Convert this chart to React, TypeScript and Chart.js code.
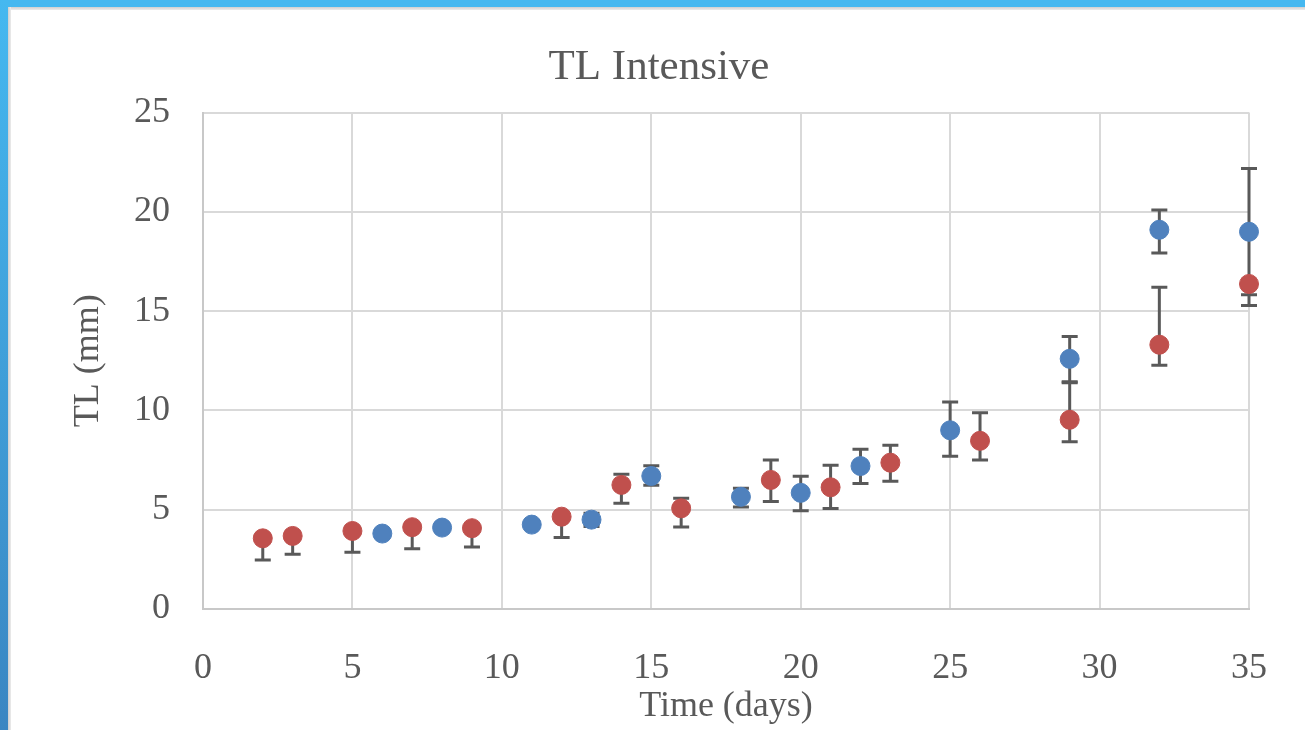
import React, { useEffect, useRef } from "react";
import { Chart, registerables } from "chart.js";

Chart.register(...registerables);

const blueDays = [6, 8, 11, 13, 15, 18, 20, 22, 25, 29, 32, 35];
const blueMean = [3.8, 4.1, 4.25, 4.5, 6.7, 5.65, 5.85, 7.2, 9.0, 12.6, 19.1, 19.0];
const blueHigh = [4.0, 4.3, 4.45, 4.82, 7.22, 6.08, 6.69, 8.05, 10.43, 13.72, 20.09, 22.18];
const blueLow = [3.6, 3.9, 4.05, 4.15, 6.23, 5.14, 4.95, 6.32, 7.69, 11.44, 17.93, 15.83];

const redDays = [2, 3, 5, 7, 9, 12, 14, 16, 19, 21, 23, 26, 29, 32, 35];
const redMean = [3.56, 3.68, 3.93, 4.12, 4.07, 4.65, 6.25, 5.07, 6.5, 6.13, 7.37, 8.47, 9.53, 13.31, 16.37];
const redHigh = [3.76, 3.88, 4.13, 4.32, 4.27, 4.85, 6.79, 5.58, 7.51, 7.24, 8.25, 9.88, 11.4, 16.21, 16.55];
const redLow = [2.47, 2.76, 2.86, 3.04, 3.12, 3.6, 5.33, 4.13, 5.41, 5.06, 6.44, 7.51, 8.42, 12.27, 15.29];

const xTicks = [0, 5, 10, 15, 20, 25, 30, 35];
const yTicks = [0, 5, 10, 15, 20, 25];

const FONT = "'Liberation Serif', 'DejaVu Serif', serif";
const TEXT = "#595959";

const errorBarPlugin = {
  id: "errorBars",
  beforeDatasetsDraw(chart: any) {
    const ctx = chart.ctx;
    const xs = chart.scales.x;
    const ys = chart.scales.y;
    ctx.save();
    ctx.strokeStyle = "#595959";
    ctx.lineWidth = 3;
    chart.data.datasets.forEach((ds: any) => {
      ds.data.forEach((p: any) => {
        const px = xs.getPixelForValue(p.x);
        const top = ys.getPixelForValue(p.hi);
        const bot = ys.getPixelForValue(p.lo);
        const cap = 8;
        ctx.beginPath();
        ctx.moveTo(px, top);
        ctx.lineTo(px, bot);
        ctx.moveTo(px - cap, top);
        ctx.lineTo(px + cap, top);
        ctx.moveTo(px - cap, bot);
        ctx.lineTo(px + cap, bot);
        ctx.stroke();
      });
    });
    ctx.restore();
  },
};

function build(days: number[], mean: number[], hi: number[], lo: number[]) {
  return days.map((d, i) => ({ x: d, y: mean[i], hi: hi[i], lo: lo[i] }));
}

export default function App() {
  const ref = useRef<HTMLCanvasElement>(null);
  useEffect(() => {
    const chart = new Chart(ref.current as HTMLCanvasElement, {
      type: "scatter",
      data: {
        datasets: [
          {
            label: "Blue",
            data: build(blueDays, blueMean, blueHigh, blueLow),
            backgroundColor: "#4F81BD",
            borderColor: "#4F81BD",
            pointRadius: 9.5,
            pointBorderWidth: 1,
            pointHoverRadius: 9.5,
            clip: false,
          },
          {
            label: "Red",
            data: build(redDays, redMean, redHigh, redLow),
            backgroundColor: "#C0504D",
            borderColor: "#C0504D",
            pointRadius: 9.5,
            pointBorderWidth: 1,
            pointHoverRadius: 9.5,
            clip: false,
          },
        ],
      },
      options: {
        animation: false,
        responsive: false,
        maintainAspectRatio: false,
        layout: { padding: { left: 56, right: 54, top: 0, bottom: 0 } },
        plugins: {
          legend: { display: false },
          tooltip: { enabled: false },
          title: {
            display: true,
            text: "TL Intensive",
            color: TEXT,
            font: { family: FONT, size: 43, weight: "normal" },
            padding: { top: 33, bottom: 19 },
          },
        },
        scales: {
          x: {
            type: "linear",
            min: 0,
            max: 35,
            afterBuildTicks: (s: any) => {
              s.ticks = xTicks.map((v) => ({ value: v }));
            },
            afterFit: (s: any) => {
              s.height = 121;
            },
            ticks: {
              color: TEXT,
              font: { family: FONT, size: 36 },
              padding: 38,
              maxRotation: 0,
            },
            grid: { color: "#d9d9d9", lineWidth: 2, drawTicks: false },
            border: { color: "#c8c8c8", width: 2 },
            title: {
              display: true,
              text: "Time (days)",
              color: TEXT,
              font: { family: FONT, size: 36 },
              padding: { top: 0, bottom: 2 },
            },
          },
          y: {
            type: "linear",
            min: 0,
            max: 25,
            afterBuildTicks: (s: any) => {
              s.ticks = yTicks.map((v) => ({ value: v }));
            },
            afterFit: (s: any) => {
              s.width = 136;
            },
            ticks: {
              color: TEXT,
              font: { family: FONT, size: 36 },
              padding: 33,
            },
            grid: { color: "#d9d9d9", lineWidth: 2, drawTicks: false },
            border: { color: "#c8c8c8", width: 2 },
            title: {
              display: true,
              text: "TL (mm)",
              color: TEXT,
              font: { family: FONT, size: 36 },
              padding: { top: 0, bottom: 0 },
            },
          },
        },
      },
      plugins: [errorBarPlugin],
    });
    return () => chart.destroy();
  }, []);

  return (
    <div
      style={{
        position: "fixed",
        left: 0,
        top: 0,
        width: 1305,
        height: 730,
        background: "#ffffff",
        overflow: "hidden",
      }}
    >
      <div
        style={{
          position: "absolute",
          left: 0,
          top: 0,
          width: 1305,
          height: 7,
          background: "#45b8f0",
        }}
      />
      <div
        style={{
          position: "absolute",
          left: 0,
          top: 0,
          width: 8,
          height: 730,
          background: "linear-gradient(#45b8f0, #3a86c2)",
        }}
      />
      <div
        style={{
          position: "absolute",
          left: 8,
          top: 7,
          width: 1297,
          height: 3,
          background: "linear-gradient(#cfcfcf, #ececec)",
        }}
      />
      <div
        style={{
          position: "absolute",
          left: 8,
          top: 7,
          width: 3,
          height: 723,
          background: "linear-gradient(90deg, #cfcfcf, #ececec)",
        }}
      />
      <canvas
        ref={ref}
        width={1294}
        height={721}
        style={{ position: "absolute", left: 11, top: 9, width: 1294, height: 721 }}
      />
    </div>
  );
}
